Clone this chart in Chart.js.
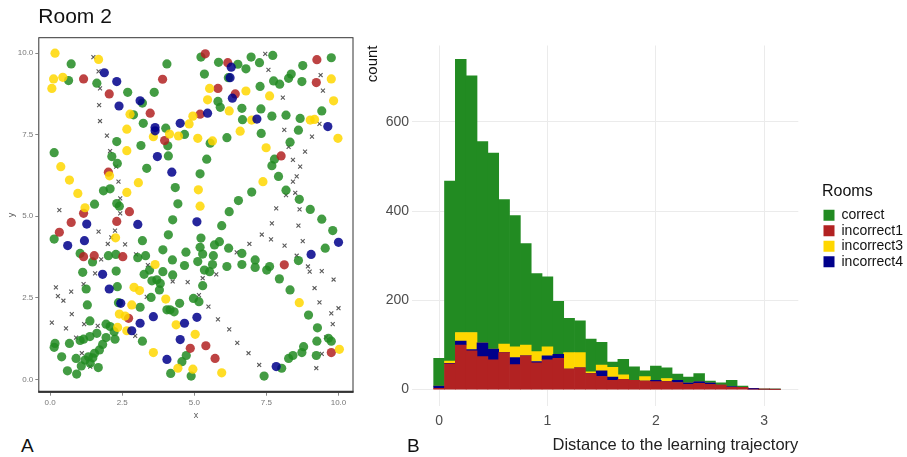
<!DOCTYPE html>
<html>
<head>
<meta charset="utf-8">
<script src="https://cdn.jsdelivr.net/npm/chart.js@4/dist/chart.umd.min.js"></script>
<style>
  body { margin: 0; background: #fff; overflow: hidden; }
  #painel { position: relative; width: 907px; height: 457px; }
  #sala { position: absolute; left: 0; top: 0; }
  #histograma { position: absolute; left: 360px; top: 0; }
  .letra { position: absolute; font-family: 'Liberation Sans', Arial, sans-serif; font-size: 19px; color: #111; }
</style>
</head>
<body>
<div id="painel">
  <canvas id="sala" width="360" height="425"></canvas>
  <canvas id="histograma" width="548" height="457"></canvas>
  <div class="letra" style="left:21px; top:435px;">A</div>
  <div class="letra" style="left:407px; top:435px;">B</div>
</div>
<script>
// painel A - Room 2 (x, y)
var correctPts = [
	[0.73,9.67],[0.64,9.16],[0.14,6.95],[1.62,9.08],[2.69,8.80],[2.89,8.11],[3.20,8.47],[3.23,7.85],[3.61,8.80],[4.05,9.67],
	[3.15,7.17],[2.31,7.29],[4.01,7.70],[4.08,7.16],[4.66,7.51],[4.10,6.85],[3.35,6.47],[2.14,6.83],[2.33,6.62],[2.08,5.84],
	[1.85,5.78],[1.54,5.37],[2.31,5.39],[2.40,5.31],[4.34,5.88],[4.43,5.38],[5.23,9.88],[5.35,9.36],[5.84,9.72],[6.18,9.25],
	[6.51,9.66],[6.79,9.52],[6.97,9.88],[7.26,9.71],[7.72,9.93],[7.28,8.98],[7.75,9.15],[7.96,9.05],[8.27,9.23],[8.36,9.36],
	[8.76,9.62],[8.73,9.13],[9.75,9.86],[5.82,8.52],[5.90,8.34],[6.65,8.31],[6.67,7.96],[7.31,8.29],[7.69,8.07],[8.18,8.10],
	[8.67,8.00],[9.42,8.23],[7.32,7.54],[8.61,7.64],[8.32,7.27],[6.13,7.41],[5.55,7.24],[5.43,6.75],[5.20,6.30],[7.78,6.75],
	[7.69,6.55],[7.92,6.22],[6.99,5.74],[6.53,5.48],[6.21,5.14],[8.18,5.80],[8.64,5.52],[9.02,5.21],
	[0.14,4.30],[1.04,3.86],[1.13,3.28],[1.47,3.60],[1.25,2.77],[1.29,2.28],[1.38,1.79],[2.02,3.79],[2.28,3.83],[2.29,3.32],
	[2.33,2.84],[2.37,2.35],[1.94,1.69],[2.08,1.62],[2.22,1.46],[2.25,1.23],[1.94,1.28],[1.82,1.07],[1.71,0.90],[1.54,0.80],
	[1.33,0.69],[1.21,0.59],[1.08,0.41],[1.48,0.66],[1.67,0.36],[1.62,1.41],[1.38,1.31],[1.16,1.23],[1.04,1.19],[0.90,0.64],
	[0.67,1.10],[0.17,1.10],[0.14,0.98],[0.40,0.69],[0.60,0.26],[0.92,0.16],[1.39,0.49],[3.04,3.73],[3.20,4.25],[3.31,3.79],
	[3.26,3.22],[3.45,3.35],[3.53,3.02],[3.70,3.05],[3.82,2.94],[3.91,3.30],[3.79,2.74],[3.50,2.51],[3.12,2.21],[3.20,1.17],
	[3.91,3.97],[4.10,4.43],[4.24,3.66],[4.25,3.20],[4.16,2.13],[4.05,2.13],[4.30,2.07],[4.49,2.33],[4.66,3.49],[4.71,3.90],
	[4.25,4.89],[5.12,3.61],[5.20,4.05],[5.23,4.33],[5.29,3.84],[4.97,2.48],[5.16,2.38],[5.29,2.87],[5.35,3.35],[5.53,3.30],
	[5.63,3.52],[5.66,3.79],[5.70,4.12],[5.87,4.22],[5.95,4.71],[6.13,3.46],[6.19,4.02],[6.65,3.86],[6.65,3.52],[7.11,3.66],
	[7.11,3.43],[7.51,3.35],[7.61,3.46],[7.95,3.08],[8.32,2.74],[8.96,1.97],[9.27,1.58],[9.25,1.17],[9.23,0.73],[9.65,1.26],
	[9.75,1.17],[8.79,1.00],[8.73,0.82],[8.42,0.73],[8.27,0.64],[8.03,0.34],[7.42,0.10],[4.89,0.10],[4.18,0.18],[4.57,0.54],
	[4.72,0.73],[9.42,4.91],[9.80,4.56],[9.54,4.02],[8.61,3.64]
];
var incorrect1Pts = [
	[1.16,9.21],[2.05,8.75],[3.90,9.20],[3.47,8.16],[3.97,7.32],[2.02,6.35],[2.75,5.14],[1.16,5.09],[5.38,9.98],[6.16,9.71],
	[5.82,8.92],[6.42,8.75],[5.20,8.13],[8.01,6.85],[9.25,9.80],[9.23,9.10],[0.73,4.81],[0.32,4.51],[2.31,4.84],[1.16,3.76],
	[1.53,3.79],[2.52,3.76],[2.72,1.87],[4.86,0.95],[5.40,1.03],[5.72,0.64],[8.12,3.51],[9.75,0.82]
];
var incorrect3Pts = [
	[0.17,10.0],[0.12,9.21],[0.06,8.92],[0.44,9.26],[1.68,9.81],[2.77,8.13],[2.66,7.67],[3.58,7.44],[4.14,7.52],[4.45,7.46],
	[4.82,7.83],[4.95,8.07],[5.12,7.39],[5.46,8.57],[5.53,8.92],[5.63,7.31],[6.21,8.23],[6.59,7.61],[6.79,8.84],[6.99,7.95],
	[7.61,8.69],[7.49,7.10],[7.38,6.06],[9.02,7.95],[9.17,7.97],[9.75,9.21],[9.83,8.54],[9.98,7.39],[0.37,6.52],[0.67,6.11],
	[0.96,5.70],[1.21,5.26],[2.06,6.24],[2.66,7.01],[2.66,5.73],[3.06,6.03],[5.14,5.81],[5.20,5.31],[2.27,4.34],[3.64,3.52],
	[2.91,2.82],[3.10,2.72],[4.01,2.46],[2.83,2.28],[2.40,2.00],[2.60,1.94],[2.34,1.59],[2.66,1.49],[4.37,1.67],[5.03,1.38],
	[3.58,0.82],[4.43,0.34],[4.95,0.31],[5.95,0.20],[8.64,2.35],[10.03,0.92]
];
var incorrect4Pts = [
	[1.88,9.40],[2.31,9.13],[2.39,8.38],[3.12,8.54],[3.64,7.72],[3.64,7.62],[4.51,7.85],[5.46,8.16],[3.72,6.83],[4.22,6.35],
	[6.28,9.57],[6.24,9.25],[6.32,8.62],[7.17,7.98],[9.63,7.75],[1.27,4.76],[3.04,4.75],[5.09,4.83],[0.61,4.10],[1.19,4.25],
	[1.82,3.22],[2.05,2.77],[2.45,2.33],[2.83,1.49],[3.12,1.72],[3.58,1.92],[5.09,1.90],[4.66,1.72],[4.51,1.22],[4.05,0.61],
	[7.84,0.39],[9.05,3.83],[10.0,4.20]
];
var trajectoryPts = [
	[1.50,9.88],[1.68,9.44],[1.73,8.92],[1.70,8.41],[1.73,7.92],[1.97,7.47],[2.08,7.00],[2.29,6.52],[2.37,6.06],[2.43,5.55],
	[2.43,5.09],[0.32,5.19],[7.46,9.98],[7.57,9.49],[8.07,8.64],[8.12,7.65],[8.27,7.13],[8.42,6.73],[8.67,6.52],[8.84,6.98],
	[8.55,6.22],[8.42,6.06],[8.50,5.72],[8.18,5.65],[9.08,7.44],[9.38,9.33],[9.46,8.85],[9.34,7.83],[7.84,5.24],[8.65,5.21],
	[1.68,4.53],[2.12,4.35],[2.00,4.15],[2.25,4.56],[2.60,4.14],[1.77,3.68],[1.56,3.25],[1.16,2.92],[0.20,2.82],[0.27,2.55],
	[0.73,2.69],[0.46,2.41],[0.06,1.74],[0.75,2.00],[0.55,1.56],[0.90,1.28],[1.18,1.69],[1.65,1.64],[1.10,0.80],[1.39,0.39],
	[2.95,1.33],[2.98,3.83],[3.39,3.50],[3.35,2.53],[4.25,3.00],[4.77,2.98],[5.29,3.10],[5.16,2.58],[5.76,3.22],[5.49,2.23],
	[5.82,1.84],[6.21,1.53],[6.49,1.12],[6.88,0.80],[7.25,0.44],[6.47,3.89],[6.91,4.15],[7.34,4.44],[7.69,4.78],[7.66,4.29],
	[8.13,4.10],[8.61,4.71],[8.76,4.24],[8.55,3.79],[8.94,3.46],[9.00,3.30],[9.42,3.32],[9.17,2.80],[9.34,2.36],[9.83,3.06],
	[10.0,2.18],[9.75,2.02],[9.80,1.69],[9.57,1.29],[9.42,0.78],[9.23,0.34]
];
var salaTicks = [0, 2.5, 5, 7.5, 10];

// painel B - histograma empilhado
var binCenters = [0.0,0.1,0.2,0.3,0.4,0.5,0.6,0.7,0.8,0.9,1.0,1.1,1.2,1.3,1.4,1.5,1.6,1.7,1.8,1.9,2.0,2.1,2.2,2.3,2.4,2.5,2.6,2.7,2.8,2.9,3.0,3.1];
var incorrect1 = [3,58,100,87,74,67,83,56,76,60,67,70,46,49,36,30,21,23,21,19,18,18,16,12,14,12,10,5,5,1,1,0];
var incorrect4 = [5,1,9,3,31,24,0,16,0,3,9,9,0,0,0,12,7,0,0,0,3,0,5,3,4,3,0,2,0,2,0,1];
var incorrect3 = [0,5,19,38,0,0,19,24,24,22,20,0,37,34,4,13,22,10,0,10,0,7,0,0,0,0,0,0,0,0,0,0];
var correct = [62,403,612,575,451,439,324,294,227,175,157,119,77,71,73,51,12,35,30,13,32,24,14,13,18,4,5,14,3,0,0,0];
var roomLabels = ['correct', 'incorrect1', 'incorrect3', 'incorrect4'];
var distTicks = [0, 1, 2, 3];
var countTicks = [0, 200, 400, 600];

Chart.defaults.font.family = "'Liberation Sans', Arial, sans-serif";

var cores = {
	correct: '#228B22',
	incorrect1: '#B22222',
	incorrect3: '#FFD700',
	incorrect4: '#00008B'
};
var coresPonto = {
	correct: 'rgba(34,139,34,0.85)',
	incorrect1: 'rgba(178,34,34,0.85)',
	incorrect3: 'rgba(255,215,0,0.85)',
	incorrect4: 'rgba(0,0,139,0.85)'
};

function pontos(lista) {
	return lista.map(function(p) { return {x: p[0], y: p[1]}; });
}

function fixarTicks(valores) {
	return function(axis) {
		axis.ticks = valores.map(function(v) { return {value: v}; });
	};
}

var moldura = {
	id: 'moldura',
	afterDraw: function(chart) {
		var a = chart.chartArea, ctx = chart.ctx;
		ctx.save();
		ctx.strokeStyle = '#333';
		ctx.lineWidth = 1;
		ctx.strokeRect(a.left + 0.5, a.top + 0.5, a.width - 1, a.height - 1);
		ctx.lineWidth = 2;
		ctx.beginPath();
		ctx.moveTo(a.left, a.bottom - 1);
		ctx.lineTo(a.right, a.bottom - 1);
		ctx.stroke();
		ctx.restore();
	}
};

function salaDataset(label, lista) {
	return {
		label: label,
		data: pontos(lista),
		backgroundColor: coresPonto[label],
		borderWidth: 0,
		pointRadius: 4.6
	};
}

new Chart(document.getElementById('sala'), {
	type: 'scatter',
	data: {
		datasets: [
			salaDataset('incorrect4', incorrect4Pts),
			salaDataset('incorrect3', incorrect3Pts),
			salaDataset('incorrect1', incorrect1Pts),
			salaDataset('correct', correctPts),
			{
				label: 'trajectory',
				data: pontos(trajectoryPts),
				pointStyle: 'crossRot',
				pointRadius: 2.8,
				borderColor: 'rgba(60,60,60,0.85)',
				borderWidth: 1.1
			}
		]
	},
	options: {
		responsive: false,
		animation: false,
		layout: { padding: { top: 0, right: 6.5, bottom: 0, left: 0 } },
		plugins: {
			legend: { display: false },
			tooltip: { enabled: false },
			title: {
				display: true,
				text: 'Room 2',
				align: 'start',
				fullSize: false,
				color: '#111',
				font: { size: 21, weight: 'normal' },
				padding: { top: 5, bottom: 7 }
			}
		},
		scales: {
			x: {
				type: 'linear',
				min: -0.41,
				max: 10.52,
				afterBuildTicks: fixarTicks(salaTicks),
				afterFit: function(s) { s.height = 32.3; },
				border: { display: false },
				grid: { drawOnChartArea: false, tickLength: 3, color: '#888' },
				ticks: {
					color: '#777', font: { size: 8 }, padding: 2, maxRotation: 0, autoSkip: false,
					callback: function(v) { return v.toFixed(1); }
				},
				title: { display: true, text: 'x', color: '#555', font: { size: 9 }, padding: { top: 0, bottom: 4 } }
			},
			y: {
				type: 'linear',
				min: -0.41,
				max: 10.49,
				afterBuildTicks: fixarTicks(salaTicks),
				afterFit: function(s) { s.width = 38.3; },
				border: { display: false },
				grid: { drawOnChartArea: false, tickLength: 3, color: '#888' },
				ticks: {
					color: '#777', font: { size: 8 }, padding: 2, autoSkip: false,
					callback: function(v) { return v.toFixed(1); }
				},
				title: { display: true, text: 'y', color: '#555', font: { size: 9 }, padding: { top: 6, bottom: 0 } }
			}
		}
	},
	plugins: [moldura]
});

function barras(label, valores) {
	return {
		label: label,
		data: binCenters.map(function(b, i) { return {x: b, y: valores[i]}; }),
		backgroundColor: cores[label],
		borderWidth: 0,
		barPercentage: 1,
		categoryPercentage: 1
	};
}

new Chart(document.getElementById('histograma'), {
	type: 'bar',
	data: {
		datasets: [
			barras('incorrect1', incorrect1),
			barras('incorrect4', incorrect4),
			barras('incorrect3', incorrect3),
			barras('correct', correct)
		]
	},
	options: {
		responsive: false,
		animation: false,
		layout: { padding: { top: 45.5, right: 0, bottom: 0, left: 0 } },
		plugins: {
			tooltip: { enabled: false },
			legend: {
				position: 'right',
				align: 'start',
				maxWidth: 86,
				title: {
					display: true, text: 'Rooms', position: 'start', color: '#111',
					font: { size: 16 }, padding: { top: 138, bottom: 4 }
				},
				labels: {
					boxWidth: 11, boxHeight: 11, padding: 1.5, color: '#111', font: { size: 14 },
					sort: function(a, b) { return roomLabels.indexOf(a.text) - roomLabels.indexOf(b.text); }
				}
			}
		},
		scales: {
			x: {
				type: 'linear',
				stacked: true,
				offset: false,
				min: -0.25,
				max: 3.315,
				afterBuildTicks: fixarTicks(distTicks),
				afterFit: function(s) { s.height = 51.3; },
				border: { display: false },
				grid: { color: '#ebebeb', drawTicks: false, offset: false },
				ticks: { color: '#4d4d4d', font: { size: 14 }, padding: 7.5, maxRotation: 0, autoSkip: false },
				title: {
					display: true, text: 'Distance to the learning trajectory', align: 'end', color: '#222',
					font: { size: 16.5 }, padding: { top: 0, bottom: 2 }
				}
			},
			y: {
				stacked: true,
				min: -36,
				max: 771,
				afterBuildTicks: fixarTicks(countTicks),
				afterFit: function(s) { s.width = 52; },
				border: { display: false },
				grid: { color: '#ebebeb', drawTicks: false },
				ticks: { color: '#4d4d4d', font: { size: 14 }, padding: 3, autoSkip: false },
				title: {
					display: true, text: 'count', align: 'end', color: '#111',
					font: { size: 15 }, padding: { top: 4, bottom: 0 }
				}
			},
			espaco: {
				type: 'linear',
				position: 'right',
				afterFit: function(s) { s.width = 23.7; },
				border: { display: false },
				grid: { display: false },
				ticks: { display: false }
			}
		}
	}
});
</script>
</body>
</html>
